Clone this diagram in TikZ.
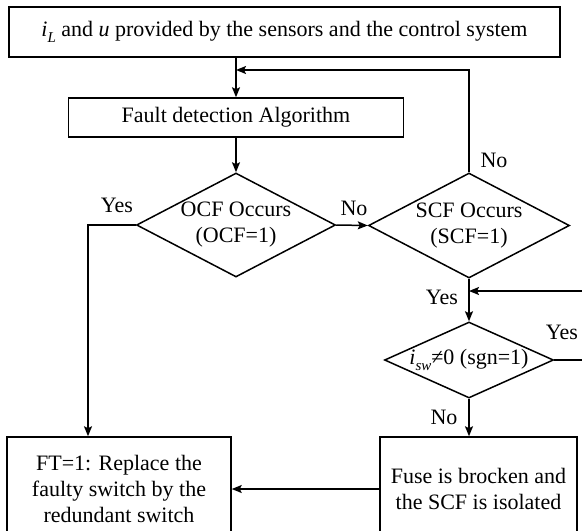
\documentclass[tikz,border=0pt]{standalone}
\usepackage{fontspec}
\setmainfont{Liberation Serif}
\usetikzlibrary{shapes.geometric,arrows.meta}
\newcommand\subsc[1]{\raisebox{-0.28em}{\fontsize{15}{15}\selectfont\itshape #1}}
\begin{document}
\begin{tikzpicture}[x=1pt,y=-1pt,
  every node/.style={font=\fontsize{22}{26}\selectfont},
  box/.style={draw, line width=1.5pt, inner sep=0pt, align=center},
  dia/.style={draw, diamond, line width=1.5pt, inner sep=0pt},
  lbl/.style={inner sep=0pt},
  arr/.style={line width=1.5pt, -{Stealth[length=10pt,width=8pt,inset=2pt]}},
  ln/.style={line width=1.5pt}]
\useasboundingbox (0,0) rectangle (582,531);
\clip (0,0) rectangle (582,531);

\node[box, minimum width=551, minimum height=50] (top) at (284.5,32)
  {\textit{i}\subsc{L} and \textit{u} provided by the sensors and the control system};
\node[box, minimum width=335, minimum height=39] (fd) at (236,117.5) {Fault detection Algorithm};
\node[dia, minimum width=199, minimum height=104] (ocf) at (236,225) {};
\node[lbl, align=center] (ocft) at (ocf) {OCF Occurs\\(OCF=1)};
\node[dia, minimum width=201, minimum height=105] (scf) at (469,225.5) {};
\node[lbl, align=center] (scft) at (scf) {SCF Occurs\\(SCF=1)};
\node[dia, minimum width=169, minimum height=76] (isw) at (469,360) {};
\node[lbl] (iswt) at (isw) {\textit{i}\subsc{sw}≠0 (sgn=1)};
\node[box, minimum width=224, minimum height=104] (ft) at (119,489)
  {FT=1: Replace the\\faulty switch by the\\redundant switch};
\node[box, minimum width=197, minimum height=104] (fuse) at (478.5,489)
  {Fuse is brocken and\\the SCF is isolated};

\node[lbl] (y1) at (117,205) {Yes};
\node[lbl] (n1) at (354,208) {No};
\node[lbl] (n2) at (494,160) {No};
\node[lbl] (y2) at (442,297) {Yes};
\node[lbl] (y3) at (562,332) {Yes};
\node[lbl] (n3) at (444,417) {No};

\coordinate (j1) at (236,70);
\coordinate (r1) at (600,291);
\coordinate (r2) at (600,360);

\draw[arr] (fd.north |- top.south) -- (fd.north);
\draw[arr] (scf.north) |- (j1);
\draw[arr] (fd.south) -- (ocf.north);
\draw[arr] (ocf.east) -- (scf.west);
\draw[arr] (ocf.west) -| ([xshift=-31pt]ft.north);
\draw[arr] (scf.south) -- (isw.north);
\draw[arr] (r1) -- (r1 -| scf.south);
\draw[ln] (isw.east) -- (r2);
\draw[arr] (isw.south) -- (isw.south |- fuse.north);
\draw[arr] (fuse.west) -- (ft.east);
\end{tikzpicture}
\end{document}
